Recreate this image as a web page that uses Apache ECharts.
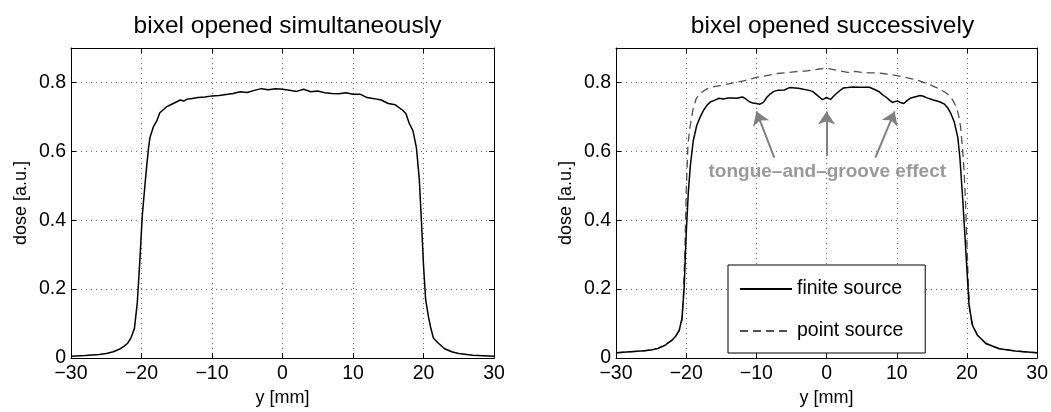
<!DOCTYPE html>
<html>
<head>
<meta charset="utf-8">
<script src="https://cdn.jsdelivr.net/npm/echarts@6/dist/echarts.min.js"></script>
<style>
html,body{margin:0;padding:0;background:#fff;}
#chart{width:1051px;height:412px;}
</style>
</head>
<body>
<div id="chart"></div>
<script>
// ---------- data ----------
const titles = ['bixel opened simultaneously', 'bixel opened successively'];
const xName = 'y [mm]';
const yName = 'dose [a.u.]';
const seriesNames = ['finite source', 'point source'];
const xTicks = [-30, -20, -10, 0, 10, 20, 30];
const yTicks = [0, 0.2, 0.4, 0.6, 0.8];

// left panel: bixel opened simultaneously
const leftX = [-30,-28,-26,-25,-24,-23,-22.5,-22,-21.5,-21,-20.6,-20.2,-19.9,-19.5,-19.25,-19,-18.8,-18.3,-17.8,-17.4,-16.4,-15.5,-14.5,-14,-13.6,-13,-12,-11,-10,-9,-8,-7,-6,-5,-4,-3,-2,-1,0,1,2,3,4,5,6,7,8,9,10,11,12,13,14,15,16,17,17.5,18,18.5,19,19.4,19.7,20,20.3,20.7,21,21.4,22,23,24,25,27,30];
const leftDose = [0.005,0.007,0.010,0.013,0.018,0.027,0.034,0.042,0.058,0.086,0.160,0.295,0.410,0.505,0.560,0.610,0.640,0.672,0.690,0.712,0.730,0.739,0.749,0.746,0.751,0.753,0.756,0.758,0.761,0.762,0.765,0.768,0.773,0.771,0.777,0.782,0.779,0.782,0.780,0.777,0.774,0.780,0.773,0.775,0.770,0.768,0.767,0.770,0.766,0.766,0.756,0.753,0.749,0.739,0.735,0.720,0.710,0.680,0.660,0.610,0.520,0.400,0.270,0.170,0.120,0.090,0.058,0.045,0.027,0.018,0.013,0.008,0.005];

// right panel: finite source
const finiteX = [-30,-28,-26,-25,-24,-23,-22,-21.5,-21,-20.6,-20.3,-20,-19.7,-19.4,-19,-18.5,-18,-17.5,-17,-16.5,-16,-15.3,-14.7,-14,-13.4,-12.8,-12,-11.5,-11,-10.5,-10,-9.5,-9,-8.5,-8,-7.5,-7,-6,-5.3,-4.5,-4,-3.3,-2.5,-2,-1.4,-1,-0.6,-0.3,0,0.3,0.6,1,1.4,2,2.4,3,3.8,4.5,5.2,6.1,7,7.5,8,8.5,9,9.4,9.8,10.1,10.5,11,11.5,12,12.8,13.3,13.8,14.2,15.2,16.1,16.8,17.3,17.7,18.2,18.7,19,19.4,19.9,20.3,20.8,21.5,22.7,24.6,26.9,30];
const finiteDose = [0.015,0.018,0.021,0.023,0.028,0.037,0.052,0.063,0.080,0.115,0.200,0.360,0.480,0.560,0.630,0.675,0.700,0.720,0.735,0.744,0.748,0.754,0.752,0.755,0.755,0.754,0.758,0.752,0.744,0.740,0.739,0.737,0.742,0.757,0.767,0.774,0.777,0.778,0.785,0.784,0.783,0.780,0.777,0.774,0.764,0.757,0.750,0.753,0.757,0.753,0.751,0.760,0.768,0.778,0.784,0.785,0.787,0.786,0.786,0.786,0.778,0.773,0.764,0.757,0.748,0.742,0.745,0.746,0.742,0.739,0.748,0.755,0.759,0.762,0.760,0.756,0.749,0.744,0.737,0.725,0.710,0.685,0.640,0.580,0.460,0.290,0.152,0.094,0.066,0.042,0.027,0.020,0.015];

// right panel: point source
const pointX = [-30,-26,-24,-22,-21,-20.6,-20.4,-20.2,-20,-19.75,-19.5,-19.3,-19,-18.55,-18,-17,-16,-15,-14,-13,-12,-11,-10,-9,-8,-7,-6,-5,-4,-3,-2,-1,0,1,2,3,4,5,6,7,8,9,10,11,12,13,14,15,16,17,17.5,18,18.5,18.8,19.1,19.4,19.6,19.8,20,20.2,20.4,20.7,21.5,22.7,24.6,27,30];
const pointDose = [0.015,0.021,0.028,0.052,0.078,0.110,0.180,0.300,0.480,0.620,0.665,0.690,0.725,0.754,0.768,0.782,0.788,0.792,0.796,0.800,0.804,0.809,0.815,0.818,0.822,0.826,0.828,0.830,0.832,0.833,0.836,0.839,0.841,0.837,0.833,0.829,0.832,0.829,0.828,0.828,0.826,0.823,0.820,0.816,0.811,0.806,0.799,0.791,0.782,0.770,0.762,0.748,0.728,0.705,0.670,0.600,0.540,0.450,0.330,0.210,0.140,0.100,0.066,0.042,0.027,0.020,0.015];

// annotation (right panel)
const annText = 'tongue\u2013and\u2013groove effect';
const annPos = [0.1, 0.542];
const arrowTails = [[-7.45, 0.582], [0, 0.587], [6.95, 0.582]];
const arrowTips = [[-10, 0.716], [0, 0.716], [9.7, 0.716]];

// ---------- chart ----------
const FONT = '"Liberation Sans", Arial, Helvetica, sans-serif';
const zip = (xs, ys) => xs.map((x, i) => [x, ys[i]]);
const minus = v => (v < 0 ? '\u2212' + (-v) : String(v));
const yFmt = v => (v === 0 ? '0' : v.toFixed(1));

const grids = [
  {left: 71, top: 48, width: 423, height: 315},
  {left: 616, top: 48, width: 423, height: 315}
];

const dotted = {show: true, lineStyle: {color: '#666', width: 1, type: [1, 4]}};
const axLine = {show: true, onZero: false, lineStyle: {color: '#000', width: 1}};
const tickIn = {show: true, inside: true, length: 5, lineStyle: {color: '#000', width: 1}};

function xAxes(gi) {
  return [
    {
      type: 'value', gridIndex: gi, position: 'bottom', min: xTicks[0], max: xTicks[xTicks.length - 1], interval: 10,
      name: xName, nameLocation: 'middle', nameGap: 31,
      nameTextStyle: {fontFamily: FONT, fontSize: 18, color: '#000'},
      axisLine: axLine, axisTick: tickIn, splitLine: dotted,
      axisLabel: {fontFamily: FONT, fontSize: 19.5, color: '#000', margin: 6, formatter: minus}
    },
    {
      type: 'value', gridIndex: gi, position: 'top', min: xTicks[0], max: xTicks[xTicks.length - 1], interval: 10,
      axisLine: axLine, axisTick: tickIn, splitLine: {show: false}, axisLabel: {show: false}
    }
  ];
}
function yAxes(gi) {
  return [
    {
      type: 'value', gridIndex: gi, position: 'left', min: 0, max: 0.9, interval: 0.2,
      name: yName, nameLocation: 'middle', nameGap: 41,
      nameTextStyle: {fontFamily: FONT, fontSize: 18, color: '#000'},
      axisLine: axLine, axisTick: tickIn, splitLine: dotted,
      axisLabel: {fontFamily: FONT, fontSize: 19.5, color: '#000', margin: 5, formatter: yFmt, showMaxLabel: false}
    },
    {
      type: 'value', gridIndex: gi, position: 'right', min: 0, max: 0.9, interval: 0.2,
      axisLine: axLine, axisTick: tickIn, splitLine: {show: false}, axisLabel: {show: false}
    }
  ];
}

const option = {
  animation: false,
  backgroundColor: '#fff',
  textStyle: {fontFamily: FONT},
  title: titles.map((t, i) => ({
    text: t,
    left: grids[i].left + grids[i].width / 2,
    textAlign: 'center',
    top: 9,
    textStyle: {fontFamily: FONT, fontSize: 24.5, fontWeight: 'normal', color: '#000'}
  })),
  grid: grids,
  xAxis: [...xAxes(0), ...xAxes(1)],
  yAxis: [...yAxes(0), ...yAxes(1)],
  legend: {
    data: seriesNames,
    orient: 'vertical',
    left: 728, top: 265,
    itemWidth: 52, itemHeight: 14, itemGap: 22,
    padding: [14, 22, 12, 11],
    borderColor: '#000', borderWidth: 1, backgroundColor: '#fff',
    itemStyle: {opacity: 0},
    textStyle: {fontFamily: FONT, fontSize: 19.5, color: '#000'},
    selectedMode: false
  },
  series: [
    {
      name: 'simultaneous', type: 'line', xAxisIndex: 0, yAxisIndex: 0,
      data: zip(leftX, leftDose), showSymbol: false, symbol: 'none',
      lineStyle: {color: '#000', width: 1.5}, silent: true
    },
    {
      name: seriesNames[1], type: 'line', xAxisIndex: 2, yAxisIndex: 2,
      data: zip(pointX, pointDose), showSymbol: false,
      itemStyle: {color: '#505050'},
      lineStyle: {color: '#505050', width: 1.3, type: [8, 5]}, silent: true
    },
    {
      name: seriesNames[0], type: 'line', xAxisIndex: 2, yAxisIndex: 2,
      data: zip(finiteX, finiteDose), showSymbol: false,
      itemStyle: {color: '#000'},
      lineStyle: {color: '#000', width: 1.5}, silent: true,
      markLine: {
        silent: true, symbol: ['none', 'arrow'], symbolSize: 13,
        label: {show: false},
        lineStyle: {color: '#808080', width: 2, type: 'solid'},
        data: arrowTails.map((t, i) => [{coord: t}, {coord: arrowTips[i]}])
      }
    },
    {
      name: 'annotation', type: 'scatter', xAxisIndex: 2, yAxisIndex: 2,
      data: [annPos], symbolSize: 1, itemStyle: {color: 'rgba(0,0,0,0)'}, silent: true,
      label: {show: true, position: 'inside', formatter: annText,
        fontFamily: FONT, fontSize: 19, fontWeight: 'bold', color: '#808080'}
    }
  ]
};

const chart = echarts.init(document.getElementById('chart'), null, {renderer: 'canvas'});
chart.setOption(option);
</script>
</body>
</html>
